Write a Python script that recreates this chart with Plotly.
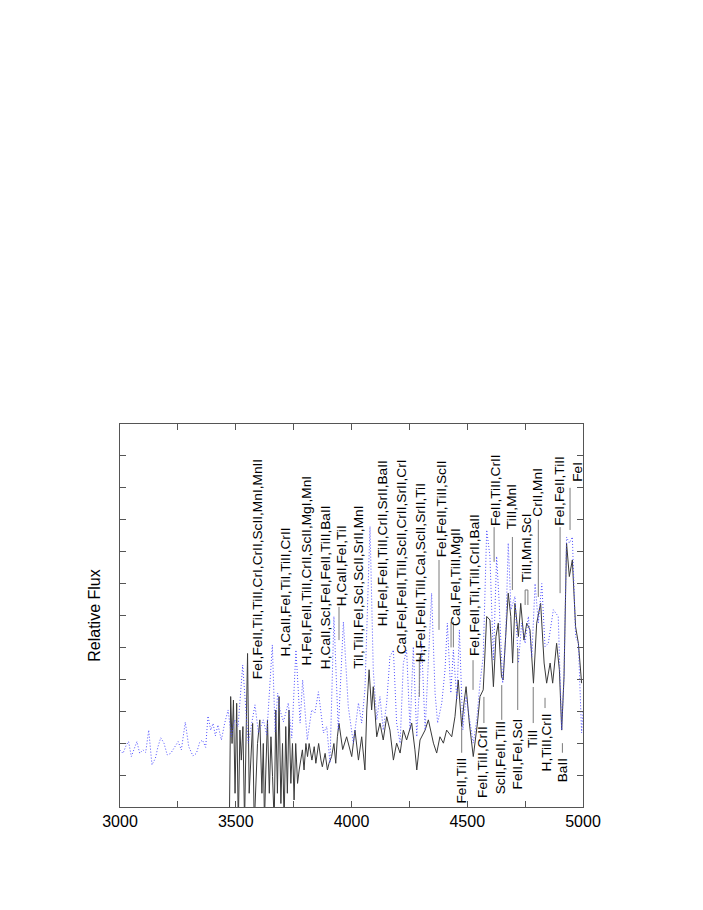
import plotly.graph_objects as go

# model spectrum (blue dotted)
blue_wl = [2999, 3013, 3027, 3037, 3049, 3063, 3073, 3085, 3099, 3111,
           3124, 3138, 3153, 3164, 3176, 3190, 3204, 3219, 3233, 3251,
           3265, 3282, 3297, 3315, 3330, 3344, 3356, 3370, 3380, 3392,
           3402, 3412, 3423, 3438, 3452, 3467, 3481, 3495, 3510, 3530,
           3554, 3583, 3598, 3619, 3634, 3658, 3670, 3681, 3691, 3706,
           3727, 3742, 3760, 3778, 3789, 3809, 3828, 3842, 3857, 3879,
           3893, 3907, 3924, 3943, 3965, 3986, 4008, 4030, 4044, 4058,
           4080, 4094, 4109, 4123, 4137, 4152, 4166, 4181, 4195, 4210,
           4224, 4238, 4253, 4267, 4282, 4303, 4318, 4332, 4346, 4361,
           4372, 4390, 4404, 4414, 4429, 4440, 4455, 4466, 4481, 4495,
           4512, 4526, 4541, 4555, 4569, 4584, 4598, 4613, 4627, 4638,
           4653, 4666, 4677, 4689, 4706, 4721, 4735, 4750, 4764, 4779,
           4793, 4807, 4822, 4836, 4850, 4872, 4893, 4908, 4918, 4929,
           4941, 4954, 4968, 4980, 4994, 5000]
blue_flux = [0.179, 0.168, 0.194, 0.205, 0.158, 0.189, 0.205, 0.168, 0.179, 0.171,
             0.241, 0.132, 0.153, 0.189, 0.217, 0.200, 0.163, 0.168, 0.184, 0.205,
             0.179, 0.266, 0.189, 0.160, 0.168, 0.202, 0.210, 0.187, 0.285, 0.241,
             0.262, 0.223, 0.257, 0.210, 0.262, 0.304, 0.220, 0.273, 0.252, 0.445,
             0.200, 0.320, 0.232, 0.273, 0.226, 0.508, 0.236, 0.357, 0.304, 0.267,
             0.326, 0.216, 0.492, 0.263, 0.398, 0.210, 0.304, 0.295, 0.361, 0.232,
             0.252, 0.138, 0.597, 0.241, 0.580, 0.315, 0.200, 0.326, 0.263, 0.367,
             0.879, 0.430, 0.273, 0.346, 0.241, 0.326, 0.471, 0.492, 0.263, 0.200,
             0.451, 0.492, 0.241, 0.502, 0.220, 0.513, 0.241, 0.451, 0.670, 0.357,
             0.263, 0.326, 0.430, 0.576, 0.357, 0.492, 0.336, 0.555, 0.241, 0.346,
             0.263, 0.200, 0.273, 0.388, 0.471, 0.868, 0.785, 0.461, 0.785, 0.638,
             0.388, 0.534, 0.827, 0.618, 0.660, 0.451, 0.576, 0.513, 0.597, 0.471,
             0.700, 0.576, 0.700, 0.502, 0.513, 0.618, 0.597, 0.241, 0.408, 0.846,
             0.827, 0.846, 0.534, 0.513, 0.232, 0.300]

# observed spectrum (black)
black_wl = [3472, 3478, 3484, 3490, 3497, 3504, 3511, 3518, 3524, 3531,
            3538, 3544, 3551, 3558, 3565, 3573, 3580, 3587, 3594, 3604,
            3613, 3619, 3624, 3630, 3637, 3645, 3652, 3659, 3666, 3673,
            3680, 3687, 3695, 3702, 3709, 3716, 3723, 3730, 3738, 3745,
            3752, 3759, 3767, 3774, 3781, 3788, 3795, 3803, 3810, 3817,
            3829, 3839, 3846, 3858, 3868, 3874, 3886, 3896, 3903, 3914,
            3924, 3932, 3939, 3946, 3962, 3979, 4001, 4015, 4030, 4044, 4058,
            4066, 4076, 4087, 4094, 4109, 4123, 4137, 4152, 4166, 4181,
            4195, 4210, 4224, 4238, 4260, 4274, 4282, 4296, 4318, 4332,
            4354, 4368, 4382, 4397, 4411, 4433, 4447, 4461, 4476, 4486,
            4495, 4509, 4526, 4544, 4555, 4569, 4584, 4598, 4613, 4624,
            4634, 4648, 4655, 4666, 4677, 4688, 4696, 4706, 4721, 4731,
            4745, 4757, 4771, 4786, 4800, 4817, 4832, 4843, 4858, 4869,
            4886, 4898, 4908, 4918, 4929, 4941, 4954, 4968, 4980, 4994]
black_flux = [-0.08, 0.346, 0.199, 0.335, 0.043, 0.325, -0.06, 0.241, 0.147, 0.252,
              -0.05, 0.199, 0.481, 0.043, 0.168, 0.262, -0.06, 0.095, 0.199, 0.273,
              0.043, 0.199, -0.05, 0.116, 0.273, 0.043, 0.220, 0.095, -0.05, 0.304,
              0.043, 0.346, 0.011, 0.199, -0.05, 0.252, 0.043, 0.304, 0.074, 0.199,
              0.022, 0.199, 0.074, 0.116, 0.147, 0.179, 0.116, 0.199, 0.158, 0.199,
              0.147, 0.189, 0.137, 0.199, 0.147, 0.126, 0.168, 0.116, 0.137, 0.158,
              0.199, 0.137, 0.220, 0.262, 0.180, 0.220, 0.158, 0.241, 0.147, 0.220, 0.116,
              0.304, 0.430, 0.304, 0.377, 0.220, 0.263, 0.210, 0.283, 0.241, 0.147,
              0.200, 0.169, 0.241, 0.210, 0.263, 0.179, 0.116, 0.210, 0.241, 0.273,
              0.200, 0.169, 0.220, 0.200, 0.241, 0.220, 0.283, 0.398, 0.252, 0.326,
              0.377, 0.263, 0.158, 0.263, 0.346, 0.367, 0.597, 0.586, 0.377, 0.534,
              0.576, 0.408, 0.398, 0.534, 0.670, 0.597, 0.451, 0.638, 0.534, 0.638,
              0.523, 0.576, 0.555, 0.388, 0.576, 0.638, 0.451, 0.388, 0.451, 0.388,
              0.513, 0.430, 0.241, 0.408, 0.827, 0.722, 0.774, 0.565, 0.513, 0.388]
assert len(blue_wl) == len(blue_flux) and len(black_wl) == len(black_flux)

# line identifications above the spectrum (flux = bottom of text)
top_text = ["FeI,FeII,TiI,TiII,CrI,CrII,ScII,MnI,MnII", "H,CaII,FeI,TiI,TiII,CrII",
            "H,FeI,FeII,TiII,CrII,ScII,MgI,MnI", "H,CaII,ScI,FeI,FeII,TiII,BaII",
            "H,CaII,FeI,TiI", "TiI,TiII,FeI,ScI,ScII,SrII,MnI",
            "HI,FeI,FeII,TiII,CrII,SrII,BaII", "CaI,FeI,FeII,TiII,ScII,CrII,SrII,CrI",
            "H,FeI,FeII,TiII,CaI,ScII,SrII,TiI", "FeI,FeII,TiII,ScII",
            "CaI,FeI,TiII,MgII", "FeI,FeII,TiI,TiII,CrII,BaII", "FeII,TiII,CrII",
            "TiII,MnI", "TiII,MnI,ScI", "CrII,MnI", "FeI,FeII,TiII", "FeI"]
top_wl = [3597, 3713, 3806, 3886, 3958, 4029, 4137, 4217, 4299, 4390,
          4451, 4534, 4620, 4692, 4757, 4806, 4901, 4973]
top_flux = [0.398, 0.467, 0.439, 0.429, 0.627, 0.429, 0.564, 0.476, 0.451, 0.780,
            0.564, 0.470, 0.877, 0.868, 0.702, 0.905, 0.877, 1.015]

# line identifications below the spectrum (flux = top of text)
bot_text = ["FeII,TiII", "FeII,TiII,CrII", "ScII,FeII,TiII", "FeII,FeI,ScI",
            "TiII", "H,TiII,CrII", "BaII"]
bot_wl = [4476, 4568, 4641, 4719, 4783, 4843, 4911]
bot_flux = [0.157, 0.257, 0.273, 0.282, 0.248, 0.295, 0.157]

# marker ticks joining labels and features
mark_wl = [3946, 4293, 4378, 4430, 4440, 4525, 4616, 4695, 4750, 4762, 4807, 4901, 4944,
           4476, 4572, 4649, 4718, 4785, 4836, 4911]
mark_hi = [0.627, 0.470, 0.774, 0.580, 0.580, 0.460, 0.877, 0.846, 0.680, 0.680, 0.900, 0.877, 1.000,
           0.250, 0.345, 0.382, 0.498, 0.376, 0.342, 0.200]
mark_lo = [0.523, 0.345, 0.555, 0.500, 0.500, 0.367, 0.768, 0.680, 0.633, 0.633, 0.658, 0.670, 0.868,
           0.170, 0.263, 0.273, 0.304, 0.263, 0.310, 0.170]

x_ticks = [3000, 3250, 3500, 3750, 4000, 4250, 4500, 4750, 5000]
x_ticktext = ["3000", "", "3500", "", "4000", "", "4500", "", "5000"]

FONT = "Liberation Sans, Arial, sans-serif"
LBL = 13.7

fig = go.Figure()
fig.add_trace(go.Scatter(x=black_wl, y=black_flux, mode="lines",
                         line=dict(color="#3a3a3a", width=1), showlegend=False))
fig.add_trace(go.Scatter(x=blue_wl, y=blue_flux, mode="lines",
                         line=dict(color="#5050ff", width=1, dash="1px,2px"),
                         showlegend=False))

for t, x, y in zip(top_text, top_wl, top_flux):
    fig.add_annotation(x=x, y=y, text=t, textangle=-90, showarrow=False,
                       xanchor="center", yanchor="bottom", borderpad=0,
                       font=dict(family=FONT, size=LBL, color="black"))
for t, x, y in zip(bot_text, bot_wl, bot_flux):
    fig.add_annotation(x=x, y=y, text=t, textangle=-90, showarrow=False,
                       xanchor="center", yanchor="top", borderpad=0,
                       font=dict(family=FONT, size=LBL, color="black"))

for x, y0, y1 in zip(mark_wl, mark_hi, mark_lo):
    fig.add_shape(type="line", x0=x, x1=x, y0=y0, y1=y1, xref="x", yref="y",
                  line=dict(color="#7a7a7a", width=1))
# small bracket for TiII,MnI,ScI
fig.add_shape(type="line", x0=mark_wl[8], x1=mark_wl[9], y0=mark_hi[8], y1=mark_hi[9],
              xref="x", yref="y", line=dict(color="#7a7a7a", width=1))

fig.update_layout(
    width=703, height=910,
    margin=dict(l=112, r=128, t=416, b=111),
    plot_bgcolor="white", paper_bgcolor="white",
    font=dict(family=FONT, size=16, color="black"),
)
fig.update_xaxes(range=[3000, 5000], tickvals=x_ticks, ticktext=x_ticktext,
                 ticks="inside", ticklen=6, tickcolor="#555",
                 showline=True, linecolor="#555", linewidth=1, mirror="ticks",
                 showgrid=False, zeroline=False, tickfont=dict(size=16))
fig.update_yaxes(range=[0, 1.2], dtick=0.1, ticks="inside", ticklen=6, tickcolor="#555",
                 showticklabels=False, showline=True, linecolor="#555", linewidth=1,
                 mirror="ticks", showgrid=False, zeroline=False,
                 title=dict(text="Relative Flux", standoff=14, font=dict(size=16)))

fig.write_html("out.html")
